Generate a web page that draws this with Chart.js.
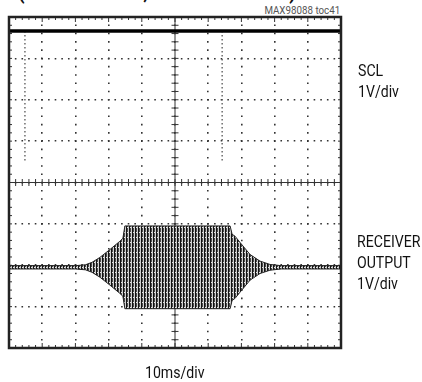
<!DOCTYPE html>
<html>
<head>
<meta charset="utf-8">
<script src="https://cdn.jsdelivr.net/npm/chart.js@4/dist/chart.umd.min.js"></script>
<style>
    html, body { margin: 0; padding: 0; background: #fff; }
    #wrap { position: relative; width: 422px; height: 382px; overflow: hidden; font-family: Roboto, "Liberation Sans", sans-serif; color: #111; }
    #scope { position: absolute; left: 0; top: 0; }
    .lbl { position: absolute; font-size: 17px; line-height: 21px; white-space: nowrap; transform: scaleX(0.83); transform-origin: left top; }
    #title { position: absolute; left: 18px; top: -21px; font-size: 22px; font-weight: bold; white-space: nowrap; transform: scaleX(0.85); transform-origin: left top; }
    #toc { position: absolute; right: 82px; top: 3px; font-size: 11.5px; color: #555; transform: scaleX(0.85); transform-origin: right top; }
</style>
</head>
<body>
<div id="wrap">
    <div id="title">(SCL ACTIVITY, RECEIVER PATH)</div>
    <div id="toc">MAX98088 toc41</div>
    <canvas id="scope" width="422" height="382"></canvas>
    <div class="lbl" style="left:358px; top:60px;">SCL<br>1V/div</div>
    <div class="lbl" style="left:357px; top:231px;">RECEIVER<br>OUTPUT<br>1V/div</div>
    <div class="lbl" style="left:145px; top:362px;">10ms/div</div>
</div>
<script>
// screen: 10 divs x 10ms, 8 divs x 1V
var xDivs = [0, 100];
var yDivs = [-4, 4];

// SCL trace (div units)
var sclHigh = 3.66;
var sclLow = 0.5;
var sclPulseTimes = [4.8, 64.2];

// receiver output burst envelope
var rxBaseline = -2.05;
var envTimes = [0, 20, 23, 25, 27.4, 30.4, 33.4, 34.3, 34.9, 66.6, 67.2, 68.1, 69.6, 72.6, 75.6, 78.6, 82, 100];
var envAmps = [0.04, 0.04, 0.06, 0.12, 0.24, 0.43, 0.63, 0.7, 1.0, 1.0, 0.8, 0.75, 0.6, 0.31, 0.15, 0.07, 0.04, 0.04];
var quietSpans = [[0, 22], [77, 100]];

function stripes() {
    var c = document.createElement('canvas');
    c.width = 3; c.height = 5;
    var g = c.getContext('2d');
    var cols = ['#111', '#4a4a4a', '#d0d0d0'];
    for (var i = 0; i < 3; i++) { g.fillStyle = cols[i]; g.fillRect(i, 0, 1, 5); }
    g.fillStyle = '#e8e8e8';
    g.fillRect(1, 2, 1, 1);
    return g.createPattern(c, 'repeat');
}

var upper = envTimes.map(function (t, i) { return { x: t, y: rxBaseline + envAmps[i] }; });
var lower = envTimes.map(function (t, i) { return { x: t, y: rxBaseline - envAmps[i] }; });

var datasets = [
    { data: [{ x: xDivs[0], y: sclHigh }, { x: xDivs[1], y: sclHigh }], borderColor: '#000', borderWidth: 3.5 },
    { data: upper, borderColor: '#222', borderWidth: 1 },
    { data: lower, borderColor: '#222', borderWidth: 1, fill: '-1', backgroundColor: stripes() }
];
sclPulseTimes.forEach(function (t) {
    datasets.push({ data: [{ x: t, y: sclHigh }, { x: t, y: sclLow }], borderColor: '#555', borderWidth: 1.3, borderDash: [1.5, 2.5] });
});
quietSpans.forEach(function (s) {
    datasets.push({ data: [{ x: s[0], y: rxBaseline }, { x: s[1], y: rxBaseline }], borderColor: '#000', borderWidth: 3.5 });
});

var scopeFrame = {
    id: 'scopeFrame',
    beforeDatasetsDraw: function (chart) {
        var ctx = chart.ctx, a = chart.chartArea, sx = chart.scales.x, sy = chart.scales.y;
        var cx = sx.getPixelForValue(50), cy = sy.getPixelForValue(0);
        ctx.save();
        ctx.strokeStyle = '#333';
        ctx.lineWidth = 1.5;
        ctx.beginPath();
        ctx.moveTo(cx, a.top); ctx.lineTo(cx, a.bottom);
        ctx.moveTo(a.left, cy); ctx.lineTo(a.right, cy);
        ctx.lineWidth = 1;
        for (var t = 0; t <= 100; t += 2) {
            var px = sx.getPixelForValue(t);
            ctx.moveTo(px, cy - 3.5); ctx.lineTo(px, cy + 3.5);
            ctx.moveTo(px, a.top); ctx.lineTo(px, a.top + (t % 10 ? 3 : 5));
            ctx.moveTo(px, a.bottom); ctx.lineTo(px, a.bottom - (t % 10 ? 3 : 5));
        }
        for (var v = -4; v <= 4.001; v += 0.2) {
            var py = sy.getPixelForValue(v);
            ctx.moveTo(cx - 3.5, py); ctx.lineTo(cx + 3.5, py);
            ctx.moveTo(a.left, py); ctx.lineTo(a.left + 3, py);
            ctx.moveTo(a.right, py); ctx.lineTo(a.right - 3, py);
        }
        ctx.stroke();
        ctx.restore();
    },
    afterDraw: function (chart) {
        var ctx = chart.ctx, a = chart.chartArea;
        ctx.save();
        ctx.strokeStyle = '#222';
        ctx.lineWidth = 2.5;
        ctx.strokeRect(a.left, a.top, a.right - a.left, a.bottom - a.top);
        ctx.restore();
    }
};

new Chart(document.getElementById('scope'), {
    type: 'line',
    data: { datasets: datasets },
    options: {
        responsive: false,
        animation: false,
        events: [],
        layout: { padding: { left: 9, top: 17, right: 81, bottom: 34 } },
        elements: { point: { radius: 0 }, line: { tension: 0 } },
        plugins: { legend: { display: false }, tooltip: { enabled: false } },
        scales: {
            x: {
                type: 'linear', min: xDivs[0], max: xDivs[1],
                ticks: { display: false, stepSize: 10 },
                grid: { color: '#333', lineWidth: 1.6, drawTicks: false },
                border: { display: false, dash: [1.6, 6.675], dashOffset: 0.8 },
                afterFit: function (s) { s.height = 0; }
            },
            y: {
                min: yDivs[0], max: yDivs[1],
                ticks: { display: false, stepSize: 1 },
                grid: { color: '#333', lineWidth: 1.6, drawTicks: false },
                border: { display: false, dash: [1.6, 5.04], dashOffset: 0.8 },
                afterFit: function (s) { s.width = 0; }
            }
        }
    },
    plugins: [scopeFrame]
});
</script>
</body>
</html>
